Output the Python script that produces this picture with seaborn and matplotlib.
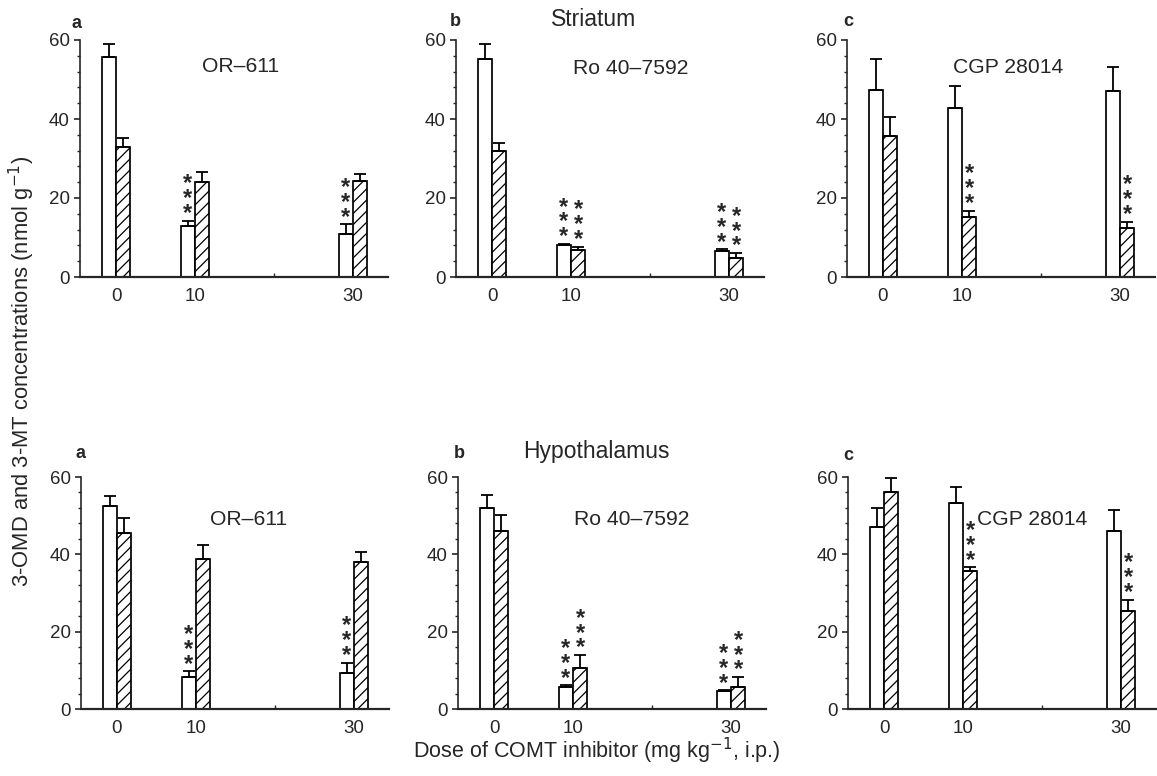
import numpy as np
import pandas as pd
import matplotlib
matplotlib.use("Agg")
import matplotlib.pyplot as plt
import seaborn as sns

# ---------------- data ----------------
doses = [0, 10, 30]
measures = ["3-OMD", "3-MT"]          # white bars, hatched bars
inhibitors = ["OR\u2013611", "Ro 40\u20137592", "CGP 28014"]
regions = ["Striatum", "Hypothalamus"]
panel_letters = ["a", "b", "c"]
dose_tick_labels = ["0", "10", "", "30"]

# Striatum
str_or_omd = [55.8, 12.8, 10.9]
str_or_omd_err = [3.1, 1.5, 2.4]
str_or_mt = [32.8, 24.0, 24.2]
str_or_mt_err = [2.3, 2.5, 1.8]
str_ro_omd = [55.1, 8.0, 6.6]
str_ro_omd_err = [4.0, 0.3, 0.4]
str_ro_mt = [32.0, 6.8, 4.9]
str_ro_mt_err = [2.0, 0.9, 1.1]
str_cgp_omd = [47.4, 42.8, 47.2]
str_cgp_omd_err = [7.7, 5.5, 6.0]
str_cgp_mt = [35.7, 15.1, 12.5]
str_cgp_mt_err = [4.8, 1.7, 1.5]

# Hypothalamus
hyp_or_omd = [52.4, 8.2, 9.3]
hyp_or_omd_err = [2.6, 1.5, 2.6]
hyp_or_mt = [45.4, 38.9, 38.1]
hyp_or_mt_err = [4.1, 3.5, 2.4]
hyp_ro_omd = [52.1, 5.8, 4.6]
hyp_ro_omd_err = [3.2, 0.3, 0.2]
hyp_ro_mt = [46.1, 10.6, 5.6]
hyp_ro_mt_err = [4.0, 3.3, 2.6]
hyp_cgp_omd = [47.1, 53.2, 46.1]
hyp_cgp_omd_err = [4.8, 4.1, 5.3]
hyp_cgp_mt = [56.2, 35.8, 25.3]
hyp_cgp_mt_err = [3.6, 0.8, 3.0]

# significance (*** p<0.001) per dose
sig_or_omd = [False, True, True]
sig_or_mt = [False, False, False]
sig_ro_omd = [False, True, True]
sig_ro_mt = [False, True, True]
sig_cgp_omd = [False, False, False]
sig_cgp_mt = [False, True, True]

panels = [
    [(str_or_omd, str_or_omd_err, sig_or_omd, str_or_mt, str_or_mt_err, sig_or_mt),
     (str_ro_omd, str_ro_omd_err, sig_ro_omd, str_ro_mt, str_ro_mt_err, sig_ro_mt),
     (str_cgp_omd, str_cgp_omd_err, sig_cgp_omd, str_cgp_mt, str_cgp_mt_err, sig_cgp_mt)],
    [(hyp_or_omd, hyp_or_omd_err, sig_or_omd, hyp_or_mt, hyp_or_mt_err, sig_or_mt),
     (hyp_ro_omd, hyp_ro_omd_err, sig_ro_omd, hyp_ro_mt, hyp_ro_mt_err, sig_ro_mt),
     (hyp_cgp_omd, hyp_cgp_omd_err, sig_cgp_omd, hyp_cgp_mt, hyp_cgp_mt_err, sig_cgp_mt)],
]

# ---------------- style ----------------
sns.set_style("ticks")
plt.rcParams["font.family"] = ["Liberation Sans", "DejaVu Sans"]
plt.rcParams["hatch.linewidth"] = 0.9

W, H = 1157, 776
fig = plt.figure(figsize=(W / 100, H / 100), dpi=100)

# layout (pixels)
zero_px = [[116, 492, 883], [117, 494, 884]]
row_top = [40, 477]
row_bot = [277, 709]
px_per_unit = 7.9
xmin, xmax = -4.6, 34.4
name_pos = [[(15.8, 53.2), (17.6, 52.7), (15.9, 53.0)],
            [(16.6, 48.9), (17.5, 48.9), (18.8, 49.1)]]
letter_px = [[(76, 24), (455, 22), (848, 22)],
             [(80, 454), (459, 453), (848, 455)]]
title_px = [(594, 20), (596, 451)]

for r in range(2):
    for c in range(3):
        omd, omd_err, omd_sig, mt, mt_err, mt_sig = panels[r][c]
        left_px = zero_px[r][c] + xmin * px_per_unit
        width_px = (xmax - xmin) * px_per_unit
        ax = fig.add_axes([left_px / W, 1 - row_bot[r] / H,
                           width_px / W, (row_bot[r] - row_top[r]) / H])
        df = pd.DataFrame({
            "dose": doses * 2,
            "value": list(omd) + list(mt),
            "measure": [measures[0]] * 3 + [measures[1]] * 3,
        })
        sns.barplot(data=df, x="dose", y="value", hue="measure",
                    hue_order=measures, native_scale=True, width=0.36,
                    palette=["white", "white"], edgecolor="black",
                    linewidth=1.25, errorbar=None, legend=False, ax=ax,
                    saturation=1)
        for k, (cont, errs, sigs) in enumerate(zip(ax.containers[:2],
                                                   [omd_err, mt_err],
                                                   [omd_sig, mt_sig])):
            xs, ys = [], []
            for p in cont.patches:
                if k == 1:
                    p.set_hatch("///")
                xs.append(p.get_x() + p.get_width() / 2)
                ys.append(p.get_height())
            ax.errorbar(xs, ys, yerr=[np.zeros(len(errs)), errs], fmt="none",
                        ecolor="black", elinewidth=1.3, capsize=4.5,
                        capthick=1.3, clip_on=False, zorder=3)
            for x, y, e, s in zip(xs, ys, errs, sigs):
                if s:
                    ax.annotate("*\n*\n*", xy=(x, y + e),
                                xytext=(0, -3.0),
                                textcoords="offset points",
                                ha="center", va="bottom",
                                fontsize=17, fontweight="bold",
                                linespacing=0.55)
        ax.set_xlim(xmin, xmax)
        ax.set_ylim(0, 60)
        ax.set_xticks([0, 10, 20, 30])
        ax.set_xticklabels(dose_tick_labels)
        ax.set_yticks([0, 20, 40, 60])
        ax.set_yticks(np.arange(0, 61, 4), minor=True)
        ax.tick_params(axis="y", which="major", direction="out", length=4,
                       width=1.2, labelsize=13.5, pad=3)
        ax.tick_params(axis="y", which="minor", direction="out", length=2.5,
                       width=1.0)
        ax.tick_params(axis="x", which="major", direction="in", length=3,
                       width=1.0, labelsize=13.5, pad=8)
        ax.set_xlabel("")
        ax.set_ylabel("")
        sns.despine(ax=ax)
        ax.spines["left"].set_linewidth(1.2)
        ax.spines["bottom"].set_linewidth(1.6)
        for lab in ax.get_xticklabels() + ax.get_yticklabels():
            lab.set_fontweight("medium")
        nx, ny = name_pos[r][c]
        ax.text(nx, ny, inhibitors[c], ha="center", va="center",
                fontsize=15.2)
        lx, ly = letter_px[r][c]
        fig.text(lx / W, 1 - ly / H, panel_letters[c], ha="center",
                 va="center", fontsize=13, fontweight="bold")

for r in range(2):
    tx, ty = title_px[r]
    fig.text(tx / W, 1 - ty / H, regions[r], ha="center", va="center",
             fontsize=16.5)

fig.text(22 / W, 1 - 371 / H,
         "3-OMD and 3-MT concentrations (nmol g$^{-1}$)",
         rotation=90, ha="center", va="center", fontsize=15.8)
fig.text(597 / W, 1 - 751 / H,
         "Dose of COMT inhibitor (mg kg$^{-1}$, i.p.)",
         ha="center", va="center", fontsize=15.5)

fig.savefig("out.png", dpi=100)
